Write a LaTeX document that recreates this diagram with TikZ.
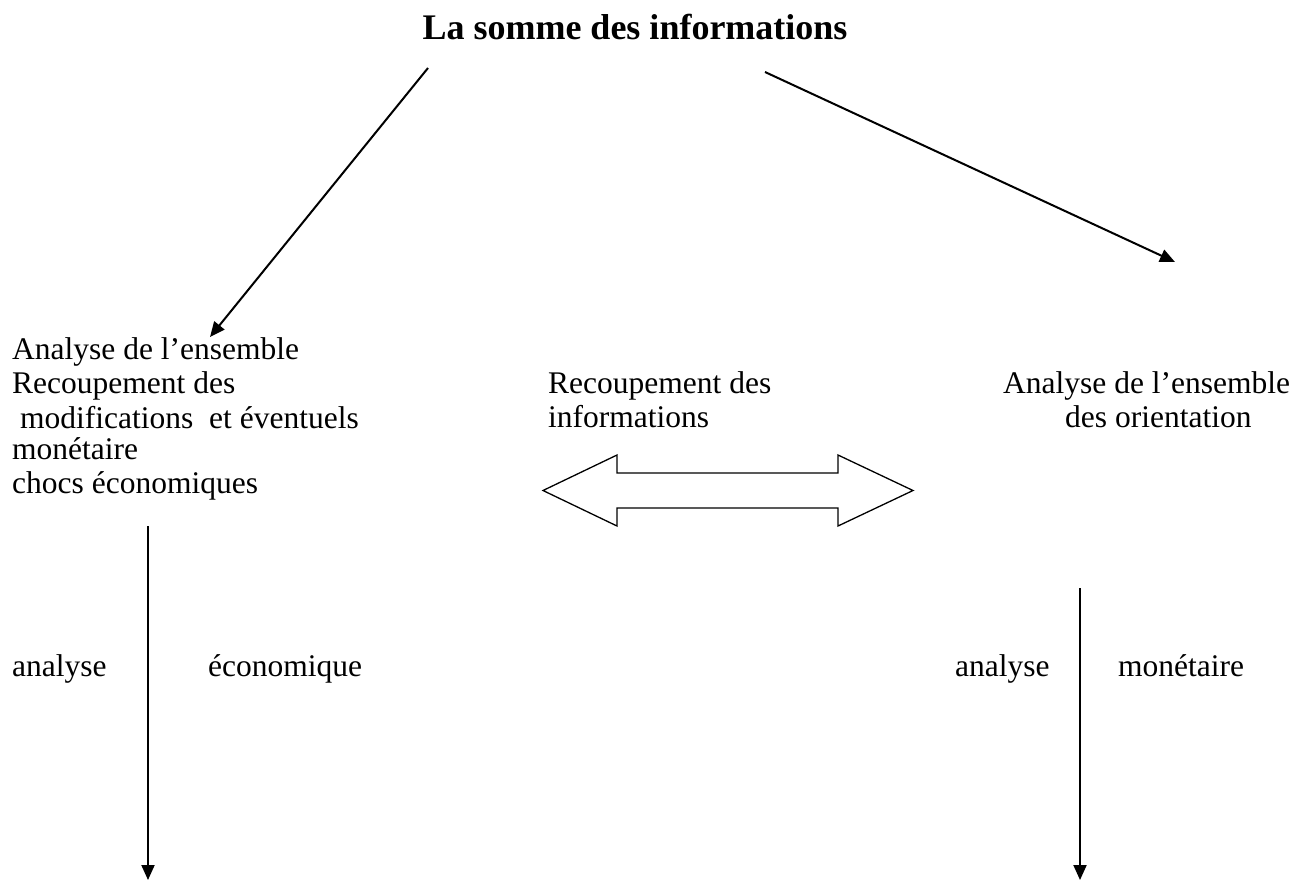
\documentclass[tikz,border=0pt]{standalone}
\usepackage{fontspec}
\setmainfont{Liberation Serif}
\usetikzlibrary{arrows.meta}

\begin{document}
\begin{tikzpicture}[x=1pt,y=-1pt,>={Triangle[length=15pt,width=13pt]},
  txt/.style={anchor=base west,inner sep=0pt,font=\fontsize{31.5}{34}\selectfont},
  conn/.style={->,line width=2pt}]
  \useasboundingbox (0,0) rectangle (1297,881);
  \node[anchor=base,inner sep=0pt,font=\bfseries\fontsize{36}{40}\selectfont] (titre) at (635,39) {La somme des informations};
  % bloc de gauche
  \node[txt] (g1) at (12,359.5) {Analyse de l’ensemble};
  \node[txt] (g2) at (12,393) {Recoupement des};
  \node[txt] (g3) at (20,428) {modifications\ \ et éventuels};
  \node[txt] (g4) at (12,459) {monétaire};
  \node[txt] (g5) at (12,493) {chocs économiques};
  % milieu
  \node[txt] (m1) at (548,393) {Recoupement des};
  \node[txt] (m2) at (548,427) {informations};
  % bloc de droite
  \node[txt] (d1) at (1003,393) {Analyse de l’ensemble};
  \node[txt] (d2) at (1065,427) {des orientation};
  % fleches du haut
  \coordinate (gh) at (428,68); \coordinate (gb) at (210,337);
  \coordinate (dh) at (765,72); \coordinate (db) at (1175,262);
  \draw[conn] (gh) -- (gb);
  \draw[conn] (dh) -- (db);
  % double fleche
  \draw[line width=1.3pt,line join=miter] (543,490.5) -- (617,455) -- (617,473) -- (838,473) -- (838,455)
    -- (913,490.5) -- (838,526) -- (838,508) -- (617,508) -- (617,526) -- cycle;
  % fleches verticales
  \coordinate (gv1) at (148,526); \coordinate (gv2) at (148,880);
  \coordinate (dv1) at (1080,588); \coordinate (dv2) at (1080,880);
  \draw[conn] (gv1) -- (gv2);
  \draw[conn] (dv1) -- (dv2);
  \node[txt] (ga) at (12,676) {analyse};
  \node[txt] (ge) at (208,676) {économique};
  \node[txt] (da) at (955,676) {analyse};
  \node[txt] (dm) at (1118,676) {monétaire};
\end{tikzpicture}
\end{document}
